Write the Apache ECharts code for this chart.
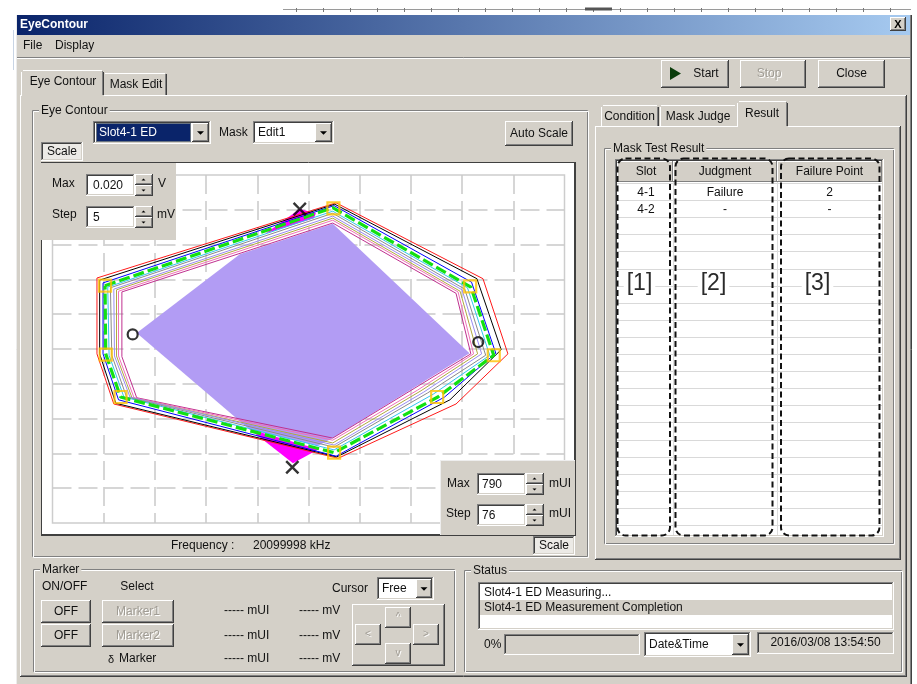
<!DOCTYPE html>
<html>
<head>
<meta charset="utf-8">
<title>EyeContour</title>
<script src="https://cdn.jsdelivr.net/npm/echarts@6.0.0/dist/echarts.min.js"></script>
<style>
  html, body { margin: 0; padding: 0; background: #fff; }
  #chart { width: 917px; height: 684px; }
</style>
</head>
<body>
<div id="chart"></div>
<script>
// axis scale (mUI across, mV up)
const X_MIN = -380, X_MAX = 380, X_STEP = 76
const Y_MIN = -25, Y_MAX = 25, Y_STEP = 5

// eye contours, outer to inner: UL, top, UR, right, LR, bottom, LL, left
const contourRed = [[-314, 10.2], [41, 21.0], [259, 10.1], [296, -0.7], [219, -7.9], [44, -15.7], [-289, -7.9], [-314, -0.7]]
const contourBlack = [[-310, 9.9], [39, 20.8], [250, 10.1], [286, -0.1], [210, -7.3], [42, -15.5], [-286, -7.8], [-310, -0.7]]
const contourBlue = [[-305, 9.5], [38, 20.6], [242, 9.6], [278, -0.6], [202, -6.9], [41, -15.4], [-282, -7.3], [-305, -0.7]]
const contourGreen = [[-302, 9.1], [36, 20.3], [241, 8.9], [275, -0.9], [192, -6.9], [38, -14.9], [-279, -6.9], [-301, -0.7]]
const contourCyan = [[-298, 8.9], [36, 19.8], [236, 8.8], [269, -0.9], [185, -6.5], [38, -14.5], [-274, -6.9], [-296, -0.9]]
const contourGray = [[-294, 8.8], [36, 19.5], [232, 8.6], [263, -0.9], [177, -6.3], [38, -14.1], [-270, -6.9], [-292, -0.9]]
const contourLavender = [[-289, 8.6], [36, 19.1], [228, 8.5], [257, -0.7], [171, -6.2], [38, -13.8], [-265, -6.9], [-288, -1.0]]
const contourOlive = [[-285, 8.5], [36, 18.8], [225, 8.3], [251, -0.7], [167, -6.0], [36, -13.5], [-262, -7.0], [-285, -1.0]]
const contourPink = [[-282, 8.3], [36, 18.5], [222, 8.2], [245, -0.7], [162, -5.9], [36, -13.1], [-259, -7.0], [-282, -1.0]]
const contourMagenta = [[-277, 8.2], [36, 18.1], [219, 8.0], [241, -0.7], [158, -5.6], [36, -12.8], [-255, -7.0], [-277, -1.1]]

// mask and judgement marks
const maskFill = [[-255, 2.3], [-102, 13.6], [36, 18.0], [239, -0.6], [36, -12.8], [14, -13.9], [-87, -11.6]]
const failTop = [[-64, 16.6], [-13, 20.1], [11, 19.5], [8, 18.8]]
const failBottom = [[-88, -11.5], [15, -14.4], [-23, -16.4]]
const judgePoints = [[37, 20.2], [240, 9.0], [275, -0.9], [191, -6.9], [38, -14.9], [-279, -6.9], [-301, -0.8], [-302, 9.1]]
const eyeEdgePoints = [[-261, 2.1], [252, 1.0]]
const failPoints = [[-13, 20.1], [-24, -17.0]]

// result table
const slots = ['4-1', '4-2']
const judgments = ['Failure', '-']
const failurePoints = ['2', '-']
const statusLines = ['Slot4-1 ED Measuring...', 'Slot4-1 ED Measurement Completion']

const FACE = '#d4d0c8', SHADOW = '#808080', DARK = '#404040', LIGHT = '#ffffff'
const FAM = '"Liberation Sans", Arial, sans-serif'
const FONT = '12px ' + FAM
const els = []
let Z = -5

function box(x, y, w, h, style, r) {
  els.push({ type: 'rect', silent: true, z: Z, shape: { x, y, width: w, height: h, r: r || 0 }, style })
}
function ln(x1, y1, x2, y2, stroke, lw) {
  els.push({ type: 'line', silent: true, z: Z, shape: { x1, y1, x2, y2 }, style: { stroke, lineWidth: lw || 1 } })
}
function txt(x, y, text, o) {
  o = o || {}
  els.push({ type: 'text', silent: true, z: Z, x, y, style: {
    text, font: o.font || FONT, fill: o.fill || '#111', textAlign: o.align || 'left', textVerticalAlign: 'middle',
    backgroundColor: o.bg, padding: o.pad } })
}
function grayTxt(x, y, text, o) {
  o = o || {}
  txt(x + 1, y + 1, text, Object.assign({}, o, { fill: '#ffffff' }))
  txt(x, y, text, Object.assign({}, o, { fill: '#a09c94' }))
}
function raised(x, y, w, h) {
  box(x, y, w, h, { fill: FACE })
  ln(x, y + 0.5, x + w - 1, y + 0.5, LIGHT)
  ln(x + 0.5, y, x + 0.5, y + h - 1, LIGHT)
  ln(x, y + h - 0.5, x + w, y + h - 0.5, DARK)
  ln(x + w - 0.5, y, x + w - 0.5, y + h, DARK)
  ln(x + 1, y + h - 1.5, x + w - 1, y + h - 1.5, SHADOW)
  ln(x + w - 1.5, y + 1, x + w - 1.5, y + h - 1, SHADOW)
}
function sunken(x, y, w, h, fill) {
  box(x, y, w, h, { fill })
  ln(x, y + 0.5, x + w, y + 0.5, SHADOW)
  ln(x + 0.5, y, x + 0.5, y + h, SHADOW)
  ln(x + 1, y + 1.5, x + w - 1, y + 1.5, DARK)
  ln(x + 1.5, y + 1, x + 1.5, y + h - 1, DARK)
  ln(x, y + h - 0.5, x + w, y + h - 0.5, LIGHT)
  ln(x + w - 0.5, y, x + w - 0.5, y + h, LIGHT)
  ln(x + 1, y + h - 1.5, x + w - 1, y + h - 1.5, FACE)
  ln(x + w - 1.5, y + 1, x + w - 1.5, y + h - 1, FACE)
}
function etched(x, y, w, h, label) {
  box(x + 0.5, y + 0.5, w - 1, h - 1, { fill: 'none', stroke: SHADOW, lineWidth: 1 })
  box(x + 1.5, y + 1.5, w - 1, h - 1, { fill: 'none', stroke: LIGHT, lineWidth: 1 })
  if (label) txt(x + 7, y + 1, label, { bg: FACE, pad: [0, 2] })
}
function arrowDown(cx, cy, s) {
  s = s || 3.5
  els.push({ type: 'polygon', silent: true, z: Z, shape: { points: [[cx - s, cy - s / 2], [cx + s, cy - s / 2], [cx, cy + s / 2]] }, style: { fill: '#000' } })
}
function arrowUp(cx, cy, s) {
  s = s || 2
  els.push({ type: 'polygon', silent: true, z: Z, shape: { points: [[cx - s, cy + s / 2], [cx + s, cy + s / 2], [cx, cy - s / 2]] }, style: { fill: '#000' } })
}
function combo(x, y, w, h, text, bw) {
  sunken(x, y, w, h, '#ffffff')
  txt(x + 5, y + h / 2 + 0.5, text)
  raised(x + w - (bw || 18) - 2, y + 2, bw || 18, h - 4)
  arrowDown(x + w - 2 - (bw || 18) / 2, y + h / 2 + 0.5)
}
function spinner(x, y, w, h) {
  raised(x, y, w, h / 2)
  raised(x, y + h / 2, w, h / 2)
  arrowUp(x + w / 2 - 0.5, y + h / 4)
  arrowDown(x + w / 2 - 0.5, y + h * 3 / 4, 2)
}

// ---- window chrome ----
ln(283, 9.5, 911, 9.5, '#9a9a9a')
for (let x = 296; x < 911; x += 27) ln(x + 0.5, 8, x + 0.5, 12, '#777')
box(585, 7.5, 27, 3, { fill: '#555' })
ln(13.5, 30, 13.5, 70, '#c8d4e4')
box(16, 15, 896, 669, { fill: FACE })
ln(16.5, 15, 16.5, 684, '#ececec')
ln(910.5, 15, 910.5, 684, SHADOW)
ln(911.5, 15, 911.5, 684, DARK)
box(17, 15, 893, 20, { fill: new echarts.graphic.LinearGradient(0, 0, 1, 0, [{ offset: 0, color: '#0a246a' }, { offset: 1, color: '#a6caf0' }]) })
txt(20, 25, 'EyeContour', { font: 'bold 12px ' + FAM, fill: '#ffffff' })
raised(890, 17, 16, 14)
txt(898, 24.5, 'X', { font: 'bold 11px ' + FAM, align: 'center', fill: '#000' })
txt(23, 46, 'File')
txt(55, 46, 'Display')
ln(17, 57.5, 910, 57.5, SHADOW)
ln(17, 58.5, 910, 58.5, LIGHT)

raised(661, 60, 68, 28)
els.push({ type: 'polygon', silent: true, z: Z, shape: { points: [[670, 67], [670, 80], [681, 73.5]] }, style: { fill: '#0b3d0b' } })
txt(706, 74, 'Start', { align: 'center' })
raised(740, 60, 66, 28)
grayTxt(769, 74, 'Stop', { align: 'center' })
raised(818, 60, 67, 28)
txt(851.5, 74, 'Close', { align: 'center' })

// main tab page
ln(20, 95.5, 906, 95.5, LIGHT)
ln(20.5, 95, 20.5, 677, LIGHT)
ln(906.5, 95, 906.5, 677, DARK)
ln(905.5, 96, 905.5, 676, SHADOW)
ln(20, 676.5, 907, 676.5, DARK)
ln(21, 675.5, 906, 675.5, SHADOW)
ln(105, 73.5, 165, 73.5, LIGHT)
ln(166.5, 74, 166.5, 95, DARK)
ln(165.5, 74, 165.5, 95, SHADOW)
txt(136, 85, 'Mask Edit', { align: 'center' })
box(21, 70, 83, 27, { fill: FACE })
ln(23, 70.5, 102, 70.5, LIGHT)
ln(21.5, 72, 21.5, 96, LIGHT)
ln(103.5, 72, 103.5, 95, DARK)
ln(102.5, 71, 102.5, 95, SHADOW)
txt(63, 82, 'Eye Contour', { align: 'center' })

// eye contour group
etched(32, 110, 556, 447, 'Eye Contour')
combo(93, 121, 118, 23, '', 17)
box(96, 123, 95, 19, { fill: '#0a246a' })
box(96.5, 123.5, 94, 18, { fill: 'none', stroke: '#c8c49a', lineWidth: 1, lineDash: [1, 1] })
txt(99, 133, 'Slot4-1 ED', { fill: '#ffffff' })
txt(219, 133, 'Mask')
combo(253, 121, 81, 23, 'Edit1', 17)
raised(505, 121, 68, 25)
txt(539, 133.5, 'Auto Scale', { align: 'center' })
sunken(41, 142, 42, 19, '#eceae6')
txt(62, 151.5, 'Scale', { align: 'center' })

// plot panel
box(41, 162, 535, 374, { fill: '#ffffff' })
ln(41, 162.5, 576, 162.5, DARK)
ln(41.5, 162, 41.5, 536, DARK)
ln(41, 535, 576, 535, DARK, 2)
ln(575, 162, 575, 536, DARK, 2)

sunken(533, 536, 42, 19, '#eceae6')
txt(554, 545.5, 'Scale', { align: 'center' })
txt(171, 545.5, 'Frequency :')
txt(253, 545.5, '20099998 kHz')

// right tab control
ln(603, 105.5, 657, 105.5, LIGHT)
ln(601.5, 107, 601.5, 127, LIGHT)
ln(658.5, 107, 658.5, 126, DARK)
ln(657.5, 107, 657.5, 126, SHADOW)
txt(629.5, 116.5, 'Condition', { align: 'center' })
ln(661, 105.5, 735, 105.5, LIGHT)
ln(660.5, 107, 660.5, 127, LIGHT)
txt(698, 116.5, 'Mask Judge', { align: 'center' })
ln(595, 126.5, 901, 126.5, LIGHT)
ln(595.5, 126, 595.5, 560, LIGHT)
ln(900.5, 126, 900.5, 560, DARK)
ln(899.5, 127, 899.5, 559, SHADOW)
ln(595, 559.5, 901, 559.5, DARK)
ln(596, 558.5, 900, 558.5, SHADOW)
box(737, 101, 51, 27, { fill: FACE })
ln(739, 101.5, 786, 101.5, LIGHT)
ln(737.5, 103, 737.5, 127, LIGHT)
ln(787.5, 103, 787.5, 126, DARK)
ln(786.5, 102, 786.5, 126, SHADOW)
txt(762, 113.5, 'Result', { align: 'center' })

etched(604, 148, 290, 396, 'Mask Test Result')
sunken(615, 159, 269, 378, '#ffffff')
const cols = [617, 673, 777, 882]
const heads = ['Slot', 'Judgment', 'Failure Point']
const colCenters = [646, 725, 829.5]
for (let i = 0; i < 3; i++) {
  box(cols[i], 161, cols[i + 1] - cols[i], 21, { fill: '#d3cfc7' })
  ln(cols[i], 161.5, cols[i + 1], 161.5, LIGHT)
  ln(cols[i] + 0.5, 161, cols[i] + 0.5, 182, LIGHT)
  ln(cols[i + 1] - 0.5, 161, cols[i + 1] - 0.5, 182, SHADOW)
  ln(cols[i], 181.5, cols[i + 1], 181.5, SHADOW)
  txt(colCenters[i], 172, heads[i], { align: 'center' })
}
for (let k = 0; k <= 20; k++) {
  const y = Math.round(183 + 17.1 * k) + 0.5
  ln(617, y, 882, y, '#d9d9d9')
}
ln(673.5, 182, 673.5, 535, '#dddddd')
ln(777.5, 182, 777.5, 535, '#dddddd')
slots.forEach((s, i) => {
  const y = 192.5 + 17.1 * i
  txt(colCenters[0], y, s, { align: 'center' })
  txt(colCenters[1], y, judgments[i], { align: 'center' })
  txt(colCenters[2], y, failurePoints[i], { align: 'center' })
})
const dash = { fill: 'none', stroke: '#111', lineWidth: 2, lineDash: [6, 3.5] }
box(617.5, 158.5, 52.5, 377, dash, 8)
box(675.5, 158.5, 97, 377, dash, 8)
box(781, 158.5, 98.5, 377, dash, 8)
const bigFont = '23px ' + FAM
txt(639.5, 284, '[1]', { align: 'center', font: bigFont, bg: '#ffffff', pad: [2, 3], fill: '#2a2a2a' })
txt(713.5, 284, '[2]', { align: 'center', font: bigFont, bg: '#ffffff', pad: [2, 3], fill: '#2a2a2a' })
txt(817.5, 284, '[3]', { align: 'center', font: bigFont, bg: '#ffffff', pad: [2, 3], fill: '#2a2a2a' })

// marker group
etched(33, 569, 422, 103, 'Marker')
txt(42, 587, 'ON/OFF')
txt(137, 587, 'Select', { align: 'center' })
txt(332, 588.5, 'Cursor')
combo(377, 577, 57, 23, 'Free', 16)
raised(41, 600, 50, 23)
txt(66, 611.5, 'OFF', { align: 'center' })
raised(41, 624, 50, 23)
txt(66, 635.5, 'OFF', { align: 'center' })
raised(102, 600, 72, 23)
grayTxt(138, 611.5, 'Marker1', { align: 'center' })
raised(102, 624, 72, 23)
grayTxt(138, 635.5, 'Marker2', { align: 'center' })
txt(108, 660, 'δ', { font: '11px ' + FAM })
txt(119, 659, 'Marker')
;[611, 635.5, 659].forEach(y => {
  txt(224, y, '----- mUI')
  txt(299, y, '----- mV')
})
raised(352, 604, 93, 62)
raised(385, 607, 26, 21)
grayTxt(398, 617, '^', { align: 'center', font: '10px ' + FAM })
raised(355, 624, 26, 21)
grayTxt(368, 634.5, '<', { align: 'center', font: '10px ' + FAM })
raised(413, 624, 26, 21)
grayTxt(426, 634.5, '>', { align: 'center', font: '10px ' + FAM })
raised(385, 643, 26, 21)
grayTxt(398, 653, 'v', { align: 'center', font: '10px ' + FAM })

// status group
etched(464, 570, 438, 102, 'Status')
sunken(478, 582, 416, 48, '#ffffff')
box(480, 600, 412, 15, { fill: FACE })
txt(484, 592.5, statusLines[0])
txt(484, 607.5, statusLines[1])
txt(484, 645, '0%')
sunken(504, 634, 136, 21, FACE)
combo(644, 632, 107, 25, 'Date&Time', 17)
sunken(757, 632, 137, 22, FACE)
txt(825.5, 643, '2016/03/08 13:54:50', { align: 'center' })

// scale popups over the plot
Z = 10
box(41, 163, 135, 77, { fill: FACE })
txt(52, 184, 'Max')
sunken(86, 174, 49, 22, '#ffffff')
txt(93, 185.5, '0.020')
spinner(135, 174, 18, 22)
txt(158, 183.5, 'V')
txt(52, 215, 'Step')
sunken(86, 206, 49, 22, '#ffffff')
txt(93, 217.5, '5')
spinner(135, 206, 18, 22)
txt(157, 214.5, 'mV')

box(440, 460, 135, 75, { fill: FACE })
ln(440.5, 460, 440.5, 535, '#eeeeee')
ln(440, 460.5, 575, 460.5, '#eeeeee')
txt(447, 484, 'Max')
sunken(477, 473, 49, 22, '#ffffff')
txt(482, 484.5, '790')
spinner(526, 473, 18, 22)
txt(549, 484, 'mUI')
txt(446, 514, 'Step')
sunken(477, 504, 49, 22, '#ffffff')
txt(482, 515.5, '76')
spinner(526, 504, 18, 22)
txt(549, 514, 'mUI')

// ---- series ----
function polygonSeries(points, color) {
  return {
    type: 'custom', coordinateSystem: 'cartesian2d', data: points, silent: true, clip: false, z: 3,
    encode: { x: 0, y: 1 },
    renderItem: (params, api) => params.dataIndex === 0
      ? { type: 'polygon', shape: { points: points.map(p => api.coord(p)) }, style: { fill: color } }
      : null
  }
}
function contour(points, color, width, type) {
  return {
    type: 'line', data: points.concat([points[0]]), symbol: 'none', silent: true, z: 3,
    lineStyle: { color, width: width || 1, type: type || 'solid' }
  }
}
const crossPath = 'path://M0,1.6 L1.6,0 L6.5,4.9 L11.4,0 L13,1.6 L8.1,6.5 L13,11.4 L11.4,13 L6.5,8.1 L1.6,13 L0,11.4 L4.9,6.5 Z'

const chart = echarts.init(document.getElementById('chart'), null, { renderer: 'canvas', width: 917, height: 684 })
chart.setOption({
  backgroundColor: '#ffffff',
  animation: false,
  graphic: { elements: els },
  grid: { left: 52.5, top: 175, width: 512, height: 348, show: true, borderColor: '#cdcdcd', borderWidth: 1.5, backgroundColor: 'rgba(0,0,0,0)' },
  xAxis: {
    type: 'value', min: X_MIN, max: X_MAX, interval: X_STEP,
    axisLine: { show: false }, axisTick: { show: false }, axisLabel: { show: false },
    splitLine: { show: true, showMinLine: false, showMaxLine: false, lineStyle: { color: '#c9c9c9', width: 1.5, type: [19, 7] } }
  },
  yAxis: {
    type: 'value', min: Y_MIN, max: Y_MAX, interval: Y_STEP,
    axisLine: { show: false }, axisTick: { show: false }, axisLabel: { show: false },
    splitLine: { show: true, showMinLine: false, showMaxLine: false, lineStyle: { color: '#c9c9c9', width: 1.5, type: [19, 7] } }
  },
  series: [
    polygonSeries(maskFill, '#b29cf4'),
    contour(contourMagenta, '#c0308f'),
    contour(contourPink, '#f070b8'),
    contour(contourOlive, '#b0a840'),
    contour(contourLavender, '#9a8cf2'),
    contour(contourGray, '#8a8a8a'),
    contour(contourCyan, '#34c4f0'),
    contour(contourRed, '#ff1a1a'),
    contour(contourBlack, '#000000'),
    contour(contourBlue, '#0000ff'),
    polygonSeries(failTop, '#ff00ff'),
    polygonSeries(failBottom, '#ff00ff'),
    contour(contourGreen, '#12e012', 3.2, [11, 4]),
    {
      type: 'scatter', data: judgePoints, symbol: 'rect', symbolSize: 12, silent: true, z: 5,
      itemStyle: { color: 'rgba(0,0,0,0)', borderColor: '#ffc200', borderWidth: 2.2 }
    },
    {
      type: 'scatter', data: eyeEdgePoints, symbol: 'circle', symbolSize: 10, silent: true, z: 5,
      itemStyle: { color: 'rgba(0,0,0,0)', borderColor: '#000000', borderWidth: 2.2 }
    },
    {
      type: 'scatter', data: failPoints, symbol: crossPath, symbolSize: 14, silent: true, z: 5,
      itemStyle: { color: '#000000' }
    }
  ]
})
</script>
</body>
</html>
